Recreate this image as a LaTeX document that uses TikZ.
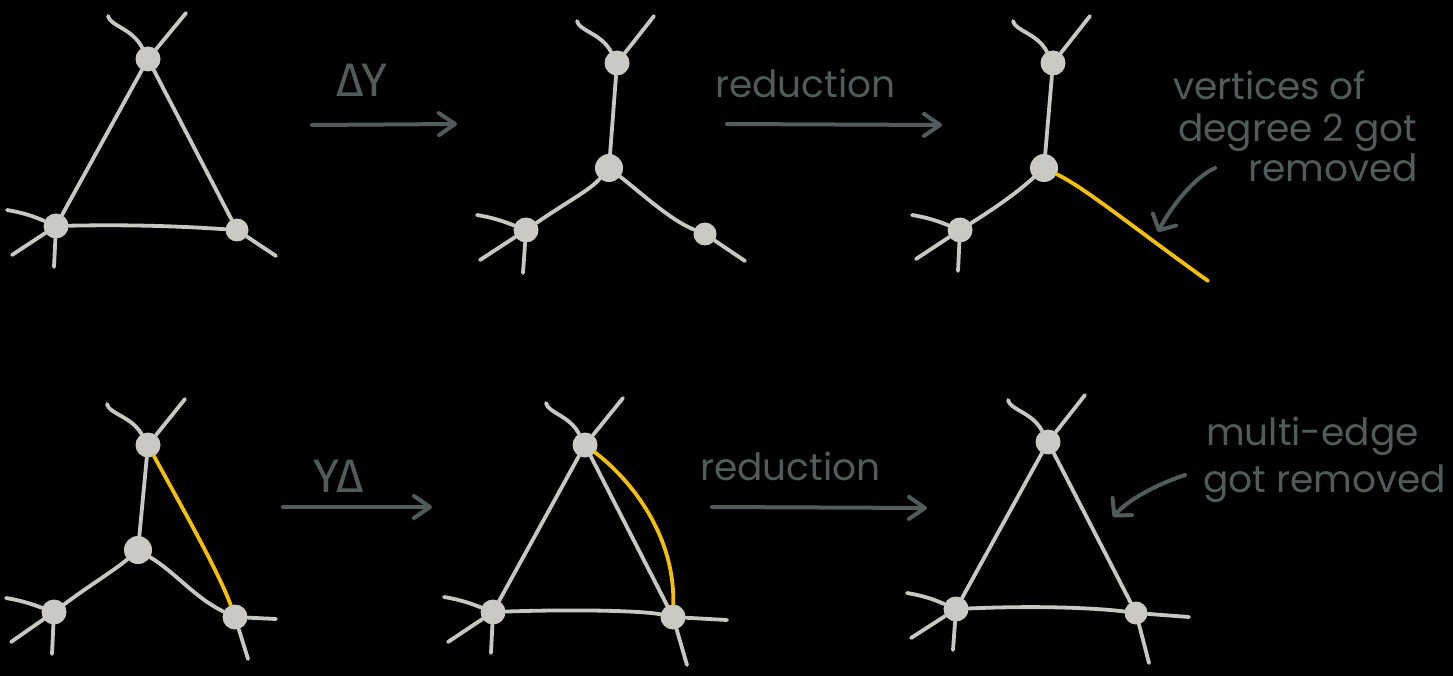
\documentclass[tikz,border=0pt]{standalone}
\usepackage{fontspec}
\setmainfont{Poppins}
\newfontfamily\grk{Fira Sans}
\usetikzlibrary{arrows.meta}
\definecolor{edgec}{RGB}{201,199,193}
\definecolor{vertc}{RGB}{203,201,196}
\definecolor{yel}{RGB}{245,192,0}
\definecolor{inkc}{RGB}{80,92,92}
\begin{document}
\begin{tikzpicture}[x=1pt,y=-1pt,
  vtx/.style={circle,fill=vertc,draw=none,minimum size=25pt,inner sep=0pt},
  hub/.style={vtx,minimum size=28pt},
  small/.style={vtx,minimum size=23pt},
  edge/.style={draw=edgec,line width=3.8pt,line cap=round,line join=round},
  hot/.style={draw=yel,line width=3.8pt,line cap=round},
  arr/.style={draw=inkc,line width=4pt,line cap=round,-{Straight Barb[length=16pt,width=22pt,round]}},
  note/.style={draw=inkc,line width=4pt,line cap=round,-{Straight Barb[length=12pt,width=26pt,round]}},
  lbl/.style={text=inkc,font=\fontsize{37.5}{40}\selectfont,inner sep=0pt,anchor=base west},
  glbl/.style={text=inkc,font=\grk\fontsize{47}{50}\selectfont,inner sep=0pt,anchor=base west}]
\fill[black] (0,0) rectangle (1453,676);
\useasboundingbox (0,0) rectangle (1453,676);

% ---------- graph 1: triangle (top-left)
\node[vtx] (a1) at (148,59) {};
\node[vtx] (a2) at (56,226) {};
\node[small] (a3) at (237,230) {};
\coordinate (a1s1) at (108,16); \coordinate (a1s2) at (186,13);
\coordinate (a2s1) at (7,210); \coordinate (a2s2) at (12,255); \coordinate (a2s3) at (54,267);
\coordinate (a3s1) at (276,256);
\draw[edge] (a1) -- (a2);
\draw[edge] (a1) -- (a3);
\draw[edge] (a2) .. controls (150,224) and (205,228) .. (a3);
\draw[edge] (a1s1) .. controls (110,26) and (132,28) .. (a1);
\draw[edge] (a1s2) -- (a1);
\draw[edge] (a2s1) .. controls (25,213) and (35,217) .. (a2);
\draw[edge] (a2s2) -- (a2);
\draw[edge] (a2s3) -- (a2);
\draw[edge] (a3s1) -- (a3);

% ---------- graph 2: Y (top-middle)
\node[vtx] (b1) at (617,63) {};
\node[hub] (b0) at (609,168) {};
\node[vtx] (b2) at (526,230) {};
\node[small] (b3) at (705,234) {};
\coordinate (b1s1) at (577,21); \coordinate (b1s2) at (654,16);
\coordinate (b2s1) at (477,215); \coordinate (b2s2) at (480,260); \coordinate (b2s3) at (523,273);
\coordinate (b3s1) at (745,261);
\draw[edge] (b1) -- (b0);
\draw[edge] (b0) .. controls (590,190) and (570,200) .. (b2);
\draw[edge] (b0) .. controls (640,192) and (670,220) .. (b3);
\draw[edge] (b1s1) .. controls (579,31) and (601,33) .. (b1);
\draw[edge] (b1s2) -- (b1);
\draw[edge] (b2s1) .. controls (495,218) and (505,222) .. (b2);
\draw[edge] (b2s2) -- (b2);
\draw[edge] (b2s3) -- (b2);
\draw[edge] (b3s1) -- (b3);

% ---------- graph 3: reduced Y (top-right)
\node[vtx] (c1) at (1053,63) {};
\node[hub] (c0) at (1044,168) {};
\node[vtx] (c2) at (960,230) {};
\coordinate (c1s1) at (1013,21); \coordinate (c1s2) at (1090,16);
\coordinate (c2s1) at (912,215); \coordinate (c2s2) at (916,259); \coordinate (c2s3) at (958,271);
\coordinate (c0y) at (1208,281);
\draw[edge] (c1) -- (c0);
\draw[edge] (c0) .. controls (1020,190) and (1000,205) .. (c2);
\draw[edge] (c1s1) .. controls (1015,31) and (1037,33) .. (c1);
\draw[edge] (c1s2) -- (c1);
\draw[edge] (c2s1) .. controls (930,218) and (940,222) .. (c2);
\draw[edge] (c2s2) -- (c2);
\draw[edge] (c2s3) -- (c2);
\draw[hot] (c0) .. controls (1085,188) and (1130,225) .. (c0y);

% ---------- graph 4: Y with extra edge (bottom-left)
\node[vtx] (d1) at (148,445) {};
\node[hub] (d0) at (138,550) {};
\node[vtx] (d2) at (54,612) {};
\node[vtx] (d3) at (235,617) {};
\coordinate (d1s1) at (107,404); \coordinate (d1s2) at (185,399);
\coordinate (d2s1) at (6,598); \coordinate (d2s2) at (11,642); \coordinate (d2s3) at (52,654);
\coordinate (d3s1) at (276,619); \coordinate (d3s2) at (248,659);
\draw[edge] (d1) -- (d0);
\draw[edge] (d0) .. controls (115,570) and (90,585) .. (d2);
\draw[edge] (d0) .. controls (175,572) and (195,598) .. (d3);
\draw[edge] (d1s1) .. controls (109,414) and (131,416) .. (d1);
\draw[edge] (d1s2) -- (d1);
\draw[edge] (d2s1) .. controls (24,601) and (34,605) .. (d2);
\draw[edge] (d2s2) -- (d2);
\draw[edge] (d2s3) -- (d2);
\draw[edge] (d3s1) -- (d3);
\draw[edge] (d3s2) -- (d3);
\draw[hot] (d1) .. controls (175,495) and (218,570) .. (d3);

% ---------- graph 5: triangle with multi-edge (bottom-middle)
\node[vtx] (e1) at (585,445) {};
\node[vtx] (e2) at (493,612) {};
\node[vtx] (e3) at (673,617) {};
\coordinate (e1s1) at (546,403); \coordinate (e1s2) at (623,398);
\coordinate (e2s1) at (444,597); \coordinate (e2s2) at (448,642); \coordinate (e2s3) at (491,653);
\coordinate (e3s1) at (727,620); \coordinate (e3s2) at (687,665);
\draw[edge] (e1) -- (e2);
\draw[edge] (e1) -- (e3);
\draw[edge] (e2) .. controls (580,609) and (645,611) .. (e3);
\draw[edge] (e1s1) .. controls (548,413) and (569,415) .. (e1);
\draw[edge] (e1s2) -- (e1);
\draw[edge] (e2s1) .. controls (462,600) and (472,604) .. (e2);
\draw[edge] (e2s2) -- (e2);
\draw[edge] (e2s3) -- (e2);
\draw[edge] (e3s1) -- (e3);
\draw[edge] (e3s2) -- (e3);
\draw[hot] (e1) .. controls (625,475) and (675,530) .. (e3);

% ---------- graph 6: triangle (bottom-right)
\node[vtx] (f1) at (1048,442) {};
\node[vtx] (f2) at (956,609) {};
\node[small] (f3) at (1136,613) {};
\coordinate (f1s1) at (1008,400); \coordinate (f1s2) at (1085,395);
\coordinate (f2s1) at (907,593); \coordinate (f2s2) at (911,638); \coordinate (f2s3) at (953,650);
\coordinate (f3s1) at (1189,617); \coordinate (f3s2) at (1149,663);
\draw[edge] (f1) -- (f2);
\draw[edge] (f1) -- (f3);
\draw[edge] (f2) .. controls (1050,605) and (1105,609) .. (f3);
\draw[edge] (f1s1) .. controls (1010,410) and (1032,412) .. (f1);
\draw[edge] (f1s2) -- (f1);
\draw[edge] (f2s1) .. controls (925,596) and (935,600) .. (f2);
\draw[edge] (f2s2) -- (f2);
\draw[edge] (f2s3) -- (f2);
\draw[edge] (f3s1) -- (f3);
\draw[edge] (f3s2) -- (f3);

% ---------- transformation arrows and labels
\coordinate (p1) at (312,125); \coordinate (q1) at (457,124);
\coordinate (p2) at (727,124); \coordinate (q2) at (942,125);
\coordinate (p3) at (283,507); \coordinate (q3) at (432,507);
\coordinate (p4) at (712,507); \coordinate (q4) at (927,508);
\draw[arr] (p1) -- (q1);
\draw[arr] (p2) -- (q2);
\draw[arr] (p3) -- (q3);
\draw[arr] (p4) -- (q4);
\node[glbl] (l1) at (336,97) {ΔY};
\node[lbl] (l2) at (715,98) {reduction};
\node[glbl] (l3) at (313,492) {YΔ};
\node[lbl] (l4) at (700,480) {reduction};

% ---------- annotations
\node[lbl] (n1) at (1173,100) {vertices of};
\node[lbl] (n2) at (1178,142) {degree 2 got};
\node[lbl] (n3) at (1248,182) {removed};
\coordinate (n0s) at (1215,168); \coordinate (n0t) at (1158,232);
\draw[note] (n0s) .. controls (1195,177) and (1172,205) .. (n0t);

\node[lbl] (m1) at (1206,445) {multi-edge};
\node[lbl] (m2) at (1203,492) {got removed};
\coordinate (m0s) at (1185,475); \coordinate (m0t) at (1113,517);
\draw[note] (m0s) .. controls (1155,485) and (1128,500) .. (m0t);
\end{tikzpicture}
\end{document}
